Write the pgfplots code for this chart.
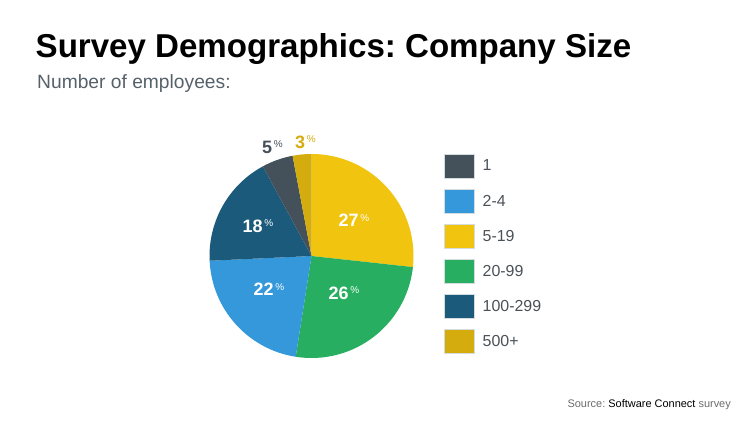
\documentclass[border=0pt]{standalone}
\usepackage{pgfplots}
\pgfplotsset{compat=1.18}
\usepackage{pgfplotstable}
\usepackage{fontspec}
\setmainfont{Liberation Sans}
\frenchspacing

\definecolor{cOne}{HTML}{44505A}
\definecolor{cTwoFour}{HTML}{3498DB}
\definecolor{cFive}{HTML}{F1C40F}
\definecolor{cTwenty}{HTML}{27AE60}
\definecolor{cHundred}{HTML}{1B5A7A}
\definecolor{cFiveHundred}{HTML}{D4AC0D}
\definecolor{legtext}{HTML}{4A5157}
\definecolor{subgray}{HTML}{56616A}
\definecolor{srcgray}{HTML}{6B6B6B}
\definecolor{legborder}{HTML}{D5DCE0}

\pgfplotstableread[col sep=comma]{
size,pct
1,5
2-4,22
5-19,27
20-99,26
100-299,18
500+,3
}\companysize

\pgfplotstablegetelem{0}{pct}\of\companysize \edef\vOne{\pgfplotsretval}
\pgfplotstablegetelem{1}{pct}\of\companysize \edef\vTwoFour{\pgfplotsretval}
\pgfplotstablegetelem{2}{pct}\of\companysize \edef\vFive{\pgfplotsretval}
\pgfplotstablegetelem{3}{pct}\of\companysize \edef\vTwenty{\pgfplotsretval}
\pgfplotstablegetelem{4}{pct}\of\companysize \edef\vHundred{\pgfplotsretval}
\pgfplotstablegetelem{5}{pct}\of\companysize \edef\vFiveHundred{\pgfplotsretval}
\pgfmathsetmacro\vTot{\vOne+\vTwoFour+\vFive+\vTwenty+\vHundred+\vFiveHundred}
\pgfmathsetmacro\aA{90}
\pgfmathsetmacro\aB{\aA-360*\vFive/\vTot}
\pgfmathsetmacro\aC{\aB-360*\vTwenty/\vTot}
\pgfmathsetmacro\aD{\aC-360*\vTwoFour/\vTot}
\pgfmathsetmacro\aE{\aD-360*\vHundred/\vTot}
\pgfmathsetmacro\aF{\aE-360*\vOne/\vTot}
\pgfmathsetmacro\aG{\aF-360*\vFiveHundred/\vTot}

\newcommand\pieslice[3]{\fill[#1] (axis cs:311.5,169) -- ++(#2:102bp) arc[start angle=#2, end angle=#3, radius=102bp] -- cycle;}
\newcommand\pct[1]{{\fontsize{18}{18}\selectfont\bfseries #1}\hspace{1.6bp}\raisebox{5.5bp}{\fontsize{10}{10}\selectfont\%}}

\begin{document}
\begin{tikzpicture}
\begin{axis}[
  x=1bp, y=1bp, xmin=0, xmax=750, ymin=0, ymax=425,
  hide axis, clip=false,
  legend style={at={(axis cs:443.3,271.5)}, anchor=north west, draw=none, fill=none,
    inner sep=0pt, row sep=10.3bp, column sep=8.4bp,
    nodes={inner sep=0pt, text=legtext, font=\fontsize{16}{16}\selectfont}},
  legend cell align=left,
  legend image code/.code={\filldraw[#1] (0bp,-12bp) rectangle (30bp,12bp);},
]
\path (axis cs:0,0) rectangle (axis cs:750,425);
% pie slices, clockwise from the top
\pieslice{cFive}{\aA}{\aB}
\pieslice{cTwenty}{\aB}{\aC}
\pieslice{cTwoFour}{\aC}{\aD}
\pieslice{cHundred}{\aD}{\aE}
\pieslice{cOne}{\aE}{\aF}
\pieslice{cFiveHundred}{\aF}{\aG}

\addlegendimage{fill=cOne, draw=legborder, line width=0.8bp}
\addlegendentry{1}
\addlegendimage{fill=cTwoFour, draw=legborder, line width=0.8bp}
\addlegendentry{2-4}
\addlegendimage{fill=cFive, draw=legborder, line width=0.8bp}
\addlegendentry{5-19}
\addlegendimage{fill=cTwenty, draw=legborder, line width=0.8bp}
\addlegendentry{20-99}
\addlegendimage{fill=cHundred, draw=legborder, line width=0.8bp}
\addlegendentry{100-299}
\addlegendimage{fill=cFiveHundred, draw=legborder, line width=0.8bp}
\addlegendentry{500+}

% percentage labels
\node[anchor=base west, inner sep=0pt, text=white] at (axis cs:338.5,198.5) {\pct{27}};
\node[anchor=base west, inner sep=0pt, text=white] at (axis cs:328.5,126) {\pct{26}};
\node[anchor=base west, inner sep=0pt, text=white] at (axis cs:253.5,129.3) {\pct{22}};
\node[anchor=base west, inner sep=0pt, text=white] at (axis cs:242.5,192.7) {\pct{18}};
\node[anchor=base west, inner sep=0pt, text=cOne] at (axis cs:262,271.7) {\pct{5}};
\node[anchor=base west, inner sep=0pt, text=cFiveHundred] at (axis cs:295,276.7) {\pct{3}};

% titles
\node[anchor=base west, inner sep=0pt] at (axis cs:35.5,367.5)
  {\fontsize{33.2}{33.2}\selectfont\bfseries Survey Demographics: Company Size};
\node[anchor=base west, inner sep=0pt, text=subgray] at (axis cs:37,336.5)
  {\fontsize{19.3}{19.3}\selectfont Number of employees:};
\node[anchor=base east, inner sep=0pt, text=srcgray] at (axis cs:731,18)
  {\fontsize{11}{11}\selectfont Source: \textcolor{black}{Software Connect} survey};
\end{axis}
\end{tikzpicture}
\end{document}
